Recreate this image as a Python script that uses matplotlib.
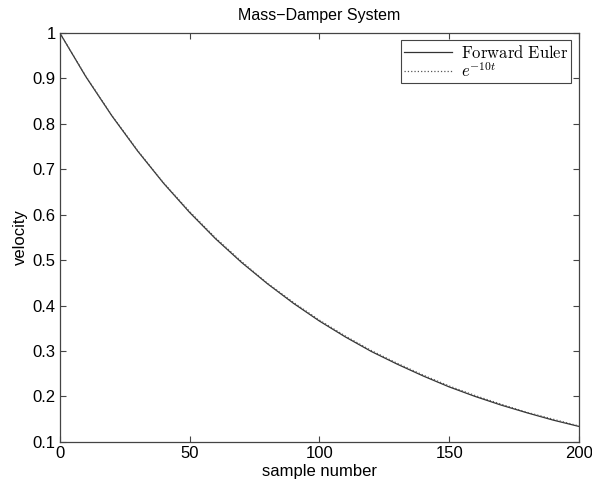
import matplotlib
matplotlib.use('Agg')
import matplotlib.pyplot as plt

# values
samples = [0, 10, 20, 30, 40, 50, 60, 70, 80, 90, 100,
           110, 120, 130, 140, 150, 160, 170, 180, 190, 200]
euler = [1.000, 0.904, 0.818, 0.740, 0.669, 0.605, 0.547, 0.495, 0.448, 0.405, 0.366,
         0.331, 0.299, 0.271, 0.245, 0.221, 0.200, 0.181, 0.164, 0.148, 0.134]
exact = [1.000, 0.905, 0.819, 0.741, 0.670, 0.607, 0.549, 0.497, 0.449, 0.407, 0.368,
         0.333, 0.301, 0.273, 0.247, 0.223, 0.202, 0.183, 0.165, 0.150, 0.135]

plt.rcParams['font.family'] = ['Liberation Sans', 'DejaVu Sans']
plt.rcParams['mathtext.fontset'] = 'cm'

fig = plt.figure(figsize=(5.92, 4.84), dpi=100)
ax = fig.add_axes([0.101, 0.087, 0.877, 0.845])

ax.plot(samples, euler, color='#333333', lw=0.9, ls='-', label=r'$\mathrm{Forward\ Euler}$')
ax.plot(samples, exact, color='#555555', lw=0.9, ls=':', label=r'$e^{-10t}$')

ax.set_xlim(0, 200)
ax.set_ylim(0.1, 1.0)
ax.set_xticks([0, 50, 100, 150, 200])
ax.set_yticks([0.1, 0.2, 0.3, 0.4, 0.5, 0.6, 0.7, 0.8, 0.9, 1.0])
ax.set_yticklabels(['0.1', '0.2', '0.3', '0.4', '0.5', '0.6', '0.7', '0.8', '0.9', '1'])
ax.tick_params(direction='in', top=True, right=True, labelsize=12, length=4,
               color='#444444', pad=3)
for s in ax.spines.values():
    s.set_color('#444444')
    s.set_linewidth(0.9)

ax.set_title('Mass\u2212Damper System', fontsize=11.5, pad=9)
ax.set_xlabel('sample number', fontsize=12, labelpad=2)
ax.set_ylabel('velocity', fontsize=12, labelpad=3)

leg = ax.legend(loc='upper right', fontsize=12, fancybox=False, edgecolor='#444444',
                framealpha=1, borderpad=0.2, labelspacing=0.0, handlelength=2.9,
                handletextpad=0.5, borderaxespad=0.45)
leg.get_frame().set_linewidth(0.8)

fig.savefig('out.png', dpi=100)
